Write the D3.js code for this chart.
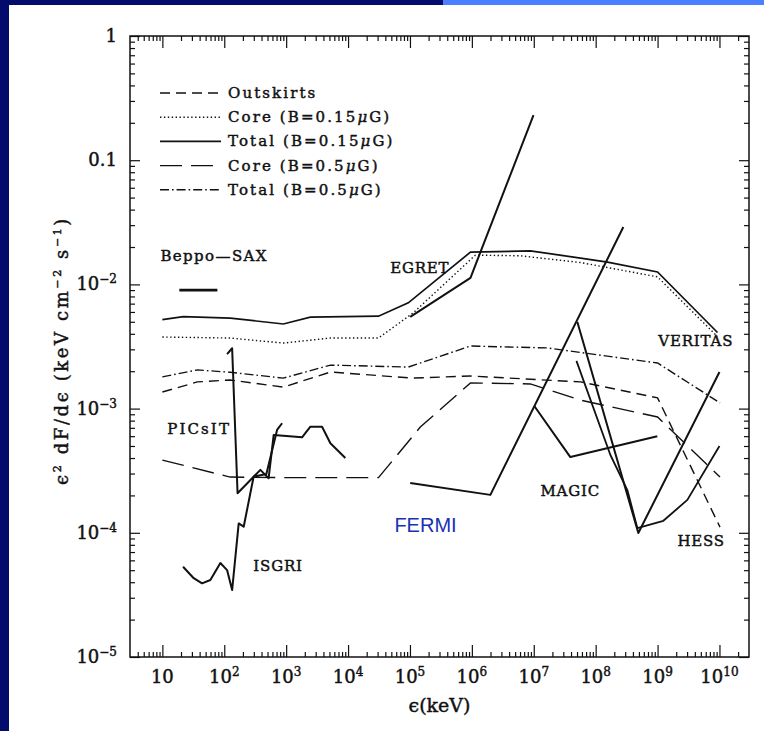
<!DOCTYPE html>
<html><head><meta charset="utf-8">
<script src="https://cdn.jsdelivr.net/npm/d3@7"></script>
<style>body{margin:0;background:#fff;} svg{display:block}</style>
</head><body><svg id="c" width="764" height="731"></svg>
<script>
// ---------------- data ----------------
const xMajor = [1e1,1e2,1e3,1e4,1e5,1e6,1e7,1e8,1e9,1e10];
const xExp = ["","2","3","4","5","6","7","8","9","10"];
const yMajor = [1,0.1,1e-2,1e-3,1e-4,1e-5];
const yBase = ["1","0.1","10","10","10","10"];
const yExp = ["","","−2","−3","−4","−5"];

const legendNames = ["Outskirts","Core (B=0.15μG)","Total (B=0.15μG)","Core (B=0.5μG)","Total (B=0.5μG)"];

const outskirtsE = [10,36.7,125,900,5200,1.1e5,9.5e5,5.7e7,1e9,1.02e10];
const outskirtsF = [1.36e-3,1.64e-3,1.7e-3,1.49e-3,1.97e-3,1.76e-3,1.83e-3,1.64e-3,1.22e-3,1.11e-4];
const core015E = [10,125,900,5200,3.1e4,1.13e5,1.14e6,6e6,5.7e7,1e9,9.3e9];
const core015F = [3.77e-3,3.7e-3,3.37e-3,3.7e-3,3.7e-3,5.9e-3,1.72e-2,1.70e-2,1.5e-2,1.15e-2,3.8e-3];
const total015E = [10,21.8,125,900,2460,3.1e4,9.4e4,9.5e5,8.8e6,5.7e7,1.55e8,1e9,9.3e9];
const total015F = [5.2e-3,5.5e-3,5.35e-3,4.8e-3,5.45e-3,5.55e-3,7.1e-3,1.82e-2,1.86e-2,1.63e-2,1.51e-2,1.26e-2,4.1e-3];
const core05E = [10,125,900,3.1e4,1.47e5,9.5e5,8.8e6,5.7e7,1e9,1.02e10];
const core05F = [3.85e-4,2.81e-4,2.78e-4,2.78e-4,7.1e-4,1.61e-3,1.58e-3,1.17e-3,8.56e-4,2.81e-4];
const total05E = [10,36.7,125,900,5200,9.4e4,9.5e5,1.66e7,1e9,1.02e10];
const total05F = [1.8e-3,2.05e-3,1.96e-3,1.76e-3,2.24e-3,2.16e-3,3.19e-3,3.08e-3,2.33e-3,1.11e-3];

const beppoE = [18.8,77.4];
const beppoF = [9.0e-3,9.0e-3];
const egretE = [1.01e5,9.5e5,9.9e6];
const egretF = [5.47e-3,1.13e-2,0.231];
const isgriE = [21.6,32.1,43.8,59.6,86.5,111,134,171,206,257,298,383,521,628,1807,2460,3800,5180,9040];
const isgriF = [5.33e-5,4.31e-5,3.92e-5,4.17e-5,5.71e-5,5.01e-5,3.46e-5,1.19e-4,1.12e-4,1.95e-4,2.83e-4,3.21e-4,2.75e-4,6.12e-4,5.87e-4,7.15e-4,7.15e-4,5.26e-4,4.0e-4];
const picsitE = [111,134,164,298,479,713,859];
const picsitF = [2.75e-3,3.06e-3,2.08e-4,2.83e-4,2.97e-4,6.73e-4,7.62e-4];
const fermiE = [1.01e5,1.99e6,2.8e8];
const fermiF = [2.52e-4,2.02e-4,2.9e-2];
const magicE = [1.02e7,3.9e7,9.9e8];
const magicF = [1.05e-3,4.07e-4,6.0e-4];
const veritasE = [5.06e7,4.89e8,1e10];
const veritasF = [4.98e-3,9.96e-5,1.97e-3];
const hessE = [4.89e7,1.73e8,3.25e8,4.72e8,1.24e9,3.03e9,1e10];
const hessF = [2.42e-3,4.23e-4,2.21e-4,1.09e-4,1.25e-4,1.84e-4,5.0e-4];

const labelNames = ["Beppo—SAX","EGRET","PICsIT","ISGRI","MAGIC","VERITAS","HESS"];
const labelE = [9.3,4.8e4,12,295,1.28e7,1.03e9,2.09e9];
const labelF = [0.0154,0.0124,6.24e-4,4.92e-5,1.98e-4,3.19e-3,7.83e-5];
const fermiLabelE = 5.6e4, fermiLabelF = 1.01e-4;

// ---------------- drawing ----------------
const W = 764, H = 731;
const serif = "'DejaVu Serif', serif";
const ink = "#111";
const svg = d3.select("#c");
svg.append("rect").attr("width",W).attr("height",H).attr("fill","#fff");
svg.append("rect").attr("x",0).attr("y",0).attr("width",9).attr("height",H).attr("fill","#030b6c");
svg.append("rect").attr("x",0).attr("y",0).attr("width",443).attr("height",5).attr("fill","#030b6c");
svg.append("rect").attr("x",443).attr("y",0).attr("width",W-443).attr("height",5).attr("fill","#4a7fff");

const x = d3.scaleLog().domain([3,3e10]).range([130,749]);
const y = d3.scaleLog().domain([1e-5,1]).range([657,36]);
const [x0,x1] = x.range(), [y0,y1] = [y.range()[1], y.range()[0]];

function minors(scale){
  const [a,b] = scale.domain(); const out=[];
  for(let d=Math.floor(Math.log10(a)); d<=Math.ceil(Math.log10(b)); d++)
    for(let k=2;k<=9;k++){ const v=k*Math.pow(10,d); if(v>a*1.0001 && v<b*0.9999) out.push(v); }
  return out;
}
function axisG(axis, tx, ty){
  const g = svg.append("g").attr("transform",`translate(${tx},${ty})`).call(axis);
  g.select(".domain").remove();
  g.selectAll("line").attr("stroke",ink).attr("stroke-width",1.2);
  g.selectAll("text").remove();
}
axisG(d3.axisBottom(x).tickValues(minors(x)).tickSize(-5).tickFormat(""),0,y1);
axisG(d3.axisBottom(x).tickValues(xMajor).tickSize(-12).tickFormat(""),0,y1);
axisG(d3.axisTop(x).tickValues(minors(x)).tickSize(-5).tickFormat(""),0,y0);
axisG(d3.axisTop(x).tickValues(xMajor).tickSize(-12).tickFormat(""),0,y0);
axisG(d3.axisLeft(y).tickValues(minors(y)).tickSize(-5).tickFormat(""),x0,0);
axisG(d3.axisLeft(y).tickValues(yMajor).tickSize(-10).tickFormat(""),x0,0);
axisG(d3.axisRight(y).tickValues(minors(y)).tickSize(-5).tickFormat(""),x1,0);
axisG(d3.axisRight(y).tickValues(yMajor).tickSize(-10).tickFormat(""),x1,0);

svg.append("rect").attr("x",x0).attr("y",y0).attr("width",x1-x0).attr("height",y1-y0)
  .attr("fill","none").attr("stroke",ink).attr("stroke-width",1.5);

// heavier text like the scanned original
function heavy(sel){ return sel.attr("fill",ink).attr("stroke",ink).attr("stroke-width",0.45); }

// tick labels
const xl = heavy(svg.append("g").attr("font-family",serif).attr("font-size",18).attr("text-anchor","middle"));
xMajor.forEach((v,i)=>{
  const t = xl.append("text").attr("x",x(v)).attr("y",y1+26);
  t.append("tspan").text("10");
  if(xExp[i]) t.append("tspan").attr("font-size",12).attr("dy",-7).text(xExp[i]);
});
const yl = heavy(svg.append("g").attr("font-family",serif).attr("font-size",18).attr("text-anchor","end"));
yMajor.forEach((v,i)=>{
  const t = yl.append("text").attr("x",x0-13).attr("y",y(v)+6);
  t.append("tspan").text(yBase[i]);
  if(yExp[i]) t.append("tspan").attr("font-size",12).attr("dy",-7).text(yExp[i]);
});

// axis titles
heavy(svg.append("text").attr("x",(x0+x1)/2).attr("y",712).attr("text-anchor","middle")
  .attr("font-family",serif).attr("font-size",19).text("ϵ(keV)"));
const yt = heavy(svg.append("text").attr("transform",`translate(68,${(y0+y1)/2+4}) rotate(-90)`).attr("text-anchor","middle")
  .attr("font-family",serif).attr("font-size",18).attr("letter-spacing",2.6));
yt.append("tspan").text("ϵ");
yt.append("tspan").attr("font-size",11).attr("dy",-7).text("2");
yt.append("tspan").attr("dy",7).text(" dF/dϵ (keV cm");
yt.append("tspan").attr("font-size",11).attr("dy",-7).text("−2");
yt.append("tspan").attr("dy",7).text(" s");
yt.append("tspan").attr("font-size",11).attr("dy",-7).text("−1");
yt.append("tspan").attr("dy",7).text(")");

// model curves
const line = d3.line().x(d=>x(d[0])).y(d=>y(d[1]));
const models = [
  {E:outskirtsE,F:outskirtsF,dash:"10,6",w:1.4},
  {E:core015E,F:core015F,dash:"1.4,2.5",w:1.4},
  {E:total015E,F:total015F,dash:null,w:1.7},
  {E:core05E,F:core05F,dash:"22,9",w:1.4},
  {E:total05E,F:total05F,dash:"9,3,1.6,3",w:1.4}
];
const plot = svg.append("g");
models.forEach(m=>{
  plot.append("path").datum(d3.zip(m.E,m.F)).attr("d",line).attr("fill","none")
    .attr("stroke",ink).attr("stroke-width",m.w).attr("stroke-dasharray",m.dash);
});
// instrument curves
[[beppoE,beppoF,2.6],[egretE,egretF,2],[isgriE,isgriF,2],[picsitE,picsitF,2],[fermiE,fermiF,2],
 [magicE,magicF,2],[veritasE,veritasF,2],[hessE,hessF,1.8]].forEach(([E,F,w])=>{
  plot.append("path").datum(d3.zip(E,F)).attr("d",line).attr("fill","none")
    .attr("stroke",ink).attr("stroke-width",w).attr("stroke-linejoin","round");
});

// legend
const lg = heavy(svg.append("g").attr("font-family",serif).attr("font-size",15));
legendNames.forEach((n,i)=>{
  const yy = 93 + i*24.2;
  lg.append("line").attr("x1",160).attr("x2",221).attr("y1",yy).attr("y2",yy)
    .attr("stroke",ink).attr("stroke-width",models[i].w).attr("stroke-dasharray",models[i].dash);
  const t = lg.append("text").attr("x",228).attr("y",yy+5).attr("letter-spacing",2.1);
  const parts = n.split("μ");
  t.append("tspan").text(parts[0]);
  if(parts.length>1){
    t.append("tspan").attr("font-style","italic").text("μ");
    t.append("tspan").text(parts[1]);
  }
});

// instrument labels
const ann = heavy(svg.append("g").attr("font-family",serif).attr("font-size",15));
const extraSpacing = {"PICsIT":2.1,"Beppo—SAX":1.4};
labelNames.forEach((n,i)=>{
  ann.append("text").attr("x",x(labelE[i])).attr("y",y(labelF[i]))
    .attr("letter-spacing",extraSpacing[n]||0.8).text(n);
});
svg.append("text").attr("x",x(fermiLabelE)).attr("y",y(fermiLabelF))
  .attr("font-family","'Liberation Sans', Arial, sans-serif").attr("font-size",20).attr("fill","#1a30b4").text("FERMI");
</script></body></html>
